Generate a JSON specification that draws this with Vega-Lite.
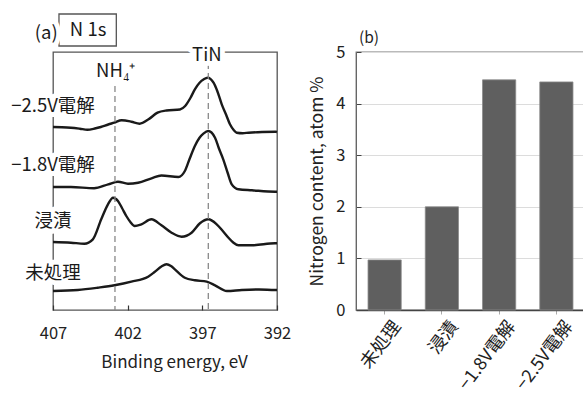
{
  "$schema": "https://vega.github.io/schema/vega-lite/v6.json",
  "padding": {"left": 10, "top": 12, "right": 0, "bottom": 0},
  "bounds": "flush",
  "spacing": 79,
  "config": {
    "font": "Noto Sans CJK JP",
    "view": {"stroke": "#555", "strokeWidth": 1.3},
    "axis": {"labelColor": "#222", "titleColor": "#222", "labelFont": "Noto Sans CJK JP", "titleFont": "Noto Sans CJK JP", "titleFontWeight": "normal"}
  },
  "datasets": {
    "labelsA": [
      {"label": "−2.5V電解", "energy": 407, "intensity": 204},
      {"label": "−1.8V電解", "energy": 407, "intensity": 145},
      {"label": "浸漬", "energy": 407, "intensity": 89},
      {"label": "未処理", "energy": 407, "intensity": 37},
      {"label": "NH₄⁺", "energy": 402.8, "intensity": 239},
      {"label": "TiN", "energy": 396.7, "intensity": 255},
      {"label": "(a)", "energy": 407.45, "intensity": 277},
      {"label": "N 1s", "energy": 404.65, "intensity": 280}
    ]
  },
  "hconcat": [
    {
      "width": 224,
      "height": 258,
      "layer": [
        {
          "data": {"values": [
            {"series": "−2.5V電解", "energy": 407.0, "intensity": 183},
            {"series": "−2.5V電解", "energy": 406.4, "intensity": 182.8},
            {"series": "−2.5V電解", "energy": 405.8, "intensity": 182.3},
            {"series": "−2.5V電解", "energy": 405.2, "intensity": 181.3},
            {"series": "−2.5V電解", "energy": 404.7, "intensity": 180.3},
            {"series": "−2.5V電解", "energy": 404.2, "intensity": 181.5},
            {"series": "−2.5V電解", "energy": 403.8, "intensity": 183},
            {"series": "−2.5V電解", "energy": 403.3, "intensity": 185.5},
            {"series": "−2.5V電解", "energy": 402.9, "intensity": 187.3},
            {"series": "−2.5V電解", "energy": 402.4, "intensity": 189.7},
            {"series": "−2.5V電解", "energy": 401.75, "intensity": 188.3},
            {"series": "−2.5V電解", "energy": 401.2, "intensity": 186.3},
            {"series": "−2.5V電解", "energy": 400.6, "intensity": 190.7},
            {"series": "−2.5V電解", "energy": 400.0, "intensity": 197.3},
            {"series": "−2.5V電解", "energy": 399.4, "intensity": 199.5},
            {"series": "−2.5V電解", "energy": 398.5, "intensity": 200.5},
            {"series": "−2.5V電解", "energy": 398.15, "intensity": 204},
            {"series": "−2.5V電解", "energy": 397.8, "intensity": 212},
            {"series": "−2.5V電解", "energy": 397.5, "intensity": 220.7},
            {"series": "−2.5V電解", "energy": 397.2, "intensity": 227},
            {"series": "−2.5V電解", "energy": 396.9, "intensity": 230.7},
            {"series": "−2.5V電解", "energy": 396.65, "intensity": 232.3},
            {"series": "−2.5V電解", "energy": 396.25, "intensity": 227.3},
            {"series": "−2.5V電解", "energy": 396.0, "intensity": 219},
            {"series": "−2.5V電解", "energy": 395.7, "intensity": 205.7},
            {"series": "−2.5V電解", "energy": 395.4, "intensity": 195},
            {"series": "−2.5V電解", "energy": 395.15, "intensity": 185.7},
            {"series": "−2.5V電解", "energy": 394.9, "intensity": 180},
            {"series": "−2.5V電解", "energy": 394.7, "intensity": 177.3},
            {"series": "−2.5V電解", "energy": 394.3, "intensity": 176.8},
            {"series": "−2.5V電解", "energy": 393.9, "intensity": 177.3},
            {"series": "−2.5V電解", "energy": 393.0, "intensity": 178},
            {"series": "−2.5V電解", "energy": 392.1, "intensity": 178.3},
            {"series": "−2.5V電解", "energy": 392.0, "intensity": 178},
            {"series": "−1.8V電解", "energy": 407.0, "intensity": 123},
            {"series": "−1.8V電解", "energy": 405.8, "intensity": 123},
            {"series": "−1.8V電解", "energy": 404.25, "intensity": 121.7},
            {"series": "−1.8V電解", "energy": 403.3, "intensity": 125.7},
            {"series": "−1.8V電解", "energy": 402.65, "intensity": 128.3},
            {"series": "−1.8V電解", "energy": 401.98, "intensity": 126.3},
            {"series": "−1.8V電解", "energy": 401.3, "intensity": 127.3},
            {"series": "−1.8V電解", "energy": 400.4, "intensity": 131.7},
            {"series": "−1.8V電解", "energy": 399.74, "intensity": 134.5},
            {"series": "−1.8V電解", "energy": 398.6, "intensity": 133},
            {"series": "−1.8V電解", "energy": 398.17, "intensity": 139},
            {"series": "−1.8V電解", "energy": 397.83, "intensity": 152},
            {"series": "−1.8V電解", "energy": 397.5, "intensity": 164},
            {"series": "−1.8V電解", "energy": 397.2, "intensity": 172},
            {"series": "−1.8V電解", "energy": 396.93, "intensity": 176.3},
            {"series": "−1.8V電解", "energy": 396.6, "intensity": 179},
            {"series": "−1.8V電解", "energy": 396.15, "intensity": 172.3},
            {"series": "−1.8V電解", "energy": 395.9, "intensity": 162},
            {"series": "−1.8V電解", "energy": 395.6, "intensity": 150.7},
            {"series": "−1.8V電解", "energy": 395.3, "intensity": 137},
            {"series": "−1.8V電解", "energy": 395.03, "intensity": 125.7},
            {"series": "−1.8V電解", "energy": 394.58, "intensity": 120.7},
            {"series": "−1.8V電解", "energy": 393.68, "intensity": 119.7},
            {"series": "−1.8V電解", "energy": 392.13, "intensity": 118.3},
            {"series": "−1.8V電解", "energy": 392.0, "intensity": 118.3},
            {"series": "浸漬", "energy": 407.0, "intensity": 68},
            {"series": "浸漬", "energy": 405.8, "intensity": 67.3},
            {"series": "浸漬", "energy": 404.9, "intensity": 66.3},
            {"series": "浸漬", "energy": 404.33, "intensity": 70.7},
            {"series": "浸漬", "energy": 403.77, "intensity": 90.7},
            {"series": "浸漬", "energy": 403.32, "intensity": 105.7},
            {"series": "浸漬", "energy": 402.98, "intensity": 112.3},
            {"series": "浸漬", "energy": 402.65, "intensity": 109},
            {"series": "浸漬", "energy": 402.38, "intensity": 102},
            {"series": "浸漬", "energy": 402.09, "intensity": 94},
            {"series": "浸漬", "energy": 401.82, "intensity": 88},
            {"series": "浸漬", "energy": 401.53, "intensity": 84},
            {"series": "浸漬", "energy": 401.08, "intensity": 85.7},
            {"series": "浸漬", "energy": 400.41, "intensity": 90.7},
            {"series": "浸漬", "energy": 399.74, "intensity": 84.7},
            {"series": "浸漬", "energy": 399.06, "intensity": 77.3},
            {"series": "浸漬", "energy": 398.39, "intensity": 73.3},
            {"series": "浸漬", "energy": 397.72, "intensity": 77.3},
            {"series": "浸漬", "energy": 397.16, "intensity": 86.7},
            {"series": "浸漬", "energy": 396.6, "intensity": 90.7},
            {"series": "浸漬", "energy": 396.04, "intensity": 85.7},
            {"series": "浸漬", "energy": 395.63, "intensity": 79},
            {"series": "浸漬", "energy": 395.25, "intensity": 72.3},
            {"series": "浸漬", "energy": 394.93, "intensity": 67.5},
            {"series": "浸漬", "energy": 394.58, "intensity": 64.7},
            {"series": "浸漬", "energy": 393.68, "intensity": 64.7},
            {"series": "浸漬", "energy": 392.13, "intensity": 66.7},
            {"series": "浸漬", "energy": 392.0, "intensity": 66.7},
            {"series": "未処理", "energy": 407.0, "intensity": 19},
            {"series": "未処理", "energy": 405.34, "intensity": 20},
            {"series": "未処理", "energy": 404.0, "intensity": 22.3},
            {"series": "未処理", "energy": 402.88, "intensity": 24.7},
            {"series": "未処理", "energy": 401.75, "intensity": 28.3},
            {"series": "未処理", "energy": 400.63, "intensity": 33.3},
            {"series": "未処理", "energy": 400.2, "intensity": 38},
            {"series": "未処理", "energy": 399.74, "intensity": 43.5},
            {"series": "未処理", "energy": 399.4, "intensity": 45.7},
            {"series": "未処理", "energy": 399.1, "intensity": 44},
            {"series": "未処理", "energy": 398.84, "intensity": 40.7},
            {"series": "未処理", "energy": 398.17, "intensity": 32.3},
            {"series": "未処理", "energy": 397.5, "intensity": 29.7},
            {"series": "未処理", "energy": 396.71, "intensity": 28.3},
            {"series": "未処理", "energy": 396.15, "intensity": 24.7},
            {"series": "未処理", "energy": 395.36, "intensity": 19},
            {"series": "未処理", "energy": 394.35, "intensity": 20},
            {"series": "未処理", "energy": 393.2, "intensity": 20.5},
            {"series": "未処理", "energy": 392.13, "intensity": 20},
            {"series": "未処理", "energy": 392.0, "intensity": 20}
          ]},
          "mark": {"type": "line", "interpolate": "monotone", "color": "#1a1a1a"},
          "encoding": {
            "x": {
              "field": "energy", "type": "quantitative",
              "scale": {"domain": [407, 392], "nice": false, "zero": false},
              "axis": {
                "values": [407, 402, 397, 392], "domain": false, "grid": false,
                "tickSize": -5, "tickColor": "#333", "tickWidth": 1.2,
                "labelFontSize": 16.5, "labelPadding": 20, "labelFlush": false,
                "title": "Binding energy, eV", "titleFontSize": 17, "titleX": 121, "titlePadding": 13
              }
            },
            "y": {
              "field": "intensity", "type": "quantitative",
              "scale": {"domain": [0, 258], "nice": false, "zero": false},
              "axis": null
            },
            "detail": {"field": "series", "type": "nominal"},
            "strokeWidth": {
              "field": "series", "type": "nominal",
              "scale": {"domain": ["−2.5V電解", "−1.8V電解", "浸漬", "未処理"], "range": [2.4, 2.4, 1.8, 1.8]},
              "legend": null
            }
          }
        },
        {
          "data": {"values": [
            {"energy": 402.85, "top": 224},
            {"energy": 396.6, "top": 247}
          ]},
          "mark": {"type": "rule", "color": "#888", "strokeDash": [6, 4], "strokeWidth": 1.3},
          "encoding": {
            "x": {"field": "energy", "type": "quantitative"},
            "y": {"field": "top", "type": "quantitative"},
            "y2": {"datum": 0}
          }
        },
        {
          "data": {"values": [
            {"left": 406.6, "right": 402.76, "low": 264, "high": 296}
          ]},
          "mark": {"type": "rect", "fill": "white", "stroke": "#555", "strokeWidth": 1.3},
          "encoding": {
            "x": {"field": "left", "type": "quantitative"},
            "x2": {"field": "right"},
            "y": {"field": "low", "type": "quantitative"},
            "y2": {"field": "high"}
          }
        },
        {
          "data": {"name": "labelsA"},
          "mark": {"type": "text", "baseline": "middle", "align": "center", "stroke": "white", "strokeWidth": 10, "strokeJoin": "round", "fill": "white"},
          "encoding": {
            "x": {"field": "energy", "type": "quantitative"},
            "y": {"field": "intensity", "type": "quantitative"},
            "text": {"field": "label", "type": "nominal"},
            "size": {
              "field": "label", "type": "ordinal",
              "scale": {"domain": ["−2.5V電解", "−1.8V電解", "浸漬", "未処理", "NH₄⁺", "TiN", "(a)", "N 1s"], "range": [18.5, 18.5, 18.5, 18.5, 17, 18, 15, 19]},
              "legend": null
            }
          }
        },
        {
          "data": {"name": "labelsA"},
          "mark": {"type": "text", "baseline": "middle", "align": "center", "color": "#1a1a1a"},
          "encoding": {
            "x": {"field": "energy", "type": "quantitative"},
            "y": {"field": "intensity", "type": "quantitative"},
            "text": {"field": "label", "type": "nominal"},
            "size": {
              "field": "label", "type": "ordinal",
              "scale": {"domain": ["−2.5V電解", "−1.8V電解", "浸漬", "未処理", "NH₄⁺", "TiN", "(a)", "N 1s"], "range": [18.5, 18.5, 18.5, 18.5, 17, 18, 15, 19]},
              "legend": null
            }
          }
        }
      ]
    },
    {
      "width": 229,
      "height": 258,
      "view": {"stroke": "#777"},
      "title": {"text": "(b)", "anchor": "start", "frame": "group", "fontSize": 15.5, "fontWeight": "normal", "offset": -2, "dx": 3, "color": "#222", "font": "Noto Sans CJK JP"},
      "data": {"values": [
        {"condition": "未処理", "nitrogen": 0.97},
        {"condition": "浸漬", "nitrogen": 2.0},
        {"condition": "−1.8V電解", "nitrogen": 4.46},
        {"condition": "−2.5V電解", "nitrogen": 4.42}
      ]},
      "mark": {"type": "bar", "color": "#5f5f5f", "stroke": "#8a8a8a", "strokeWidth": 0.8},
      "encoding": {
        "x": {
          "field": "condition", "type": "nominal", "sort": null,
          "scale": {"paddingInner": 0.42, "paddingOuter": 0.21},
          "axis": {
            "title": null, "labelAngle": -53, "labelAlign": "right", "labelBaseline": "middle",
            "labelFontSize": 18, "labelPadding": 9, "labelOffset": 13,
            "tickSize": 4, "tickColor": "#aaa", "domainColor": "#444", "domainWidth": 1.3
          }
        },
        "y": {
          "field": "nitrogen", "type": "quantitative",
          "scale": {"domain": [0, 5], "nice": false},
          "axis": {
            "title": "Nitrogen content, atom %", "titleFontSize": 17.5, "titlePadding": 9,
            "values": [0, 1, 2, 3, 4, 5], "labelFontSize": 16.5,
            "tickSize": -5, "tickColor": "#444", "labelPadding": 16,
            "gridColor": "#dcdcdc", "domainColor": "#666"
          }
        }
      }
    }
  ]
}
